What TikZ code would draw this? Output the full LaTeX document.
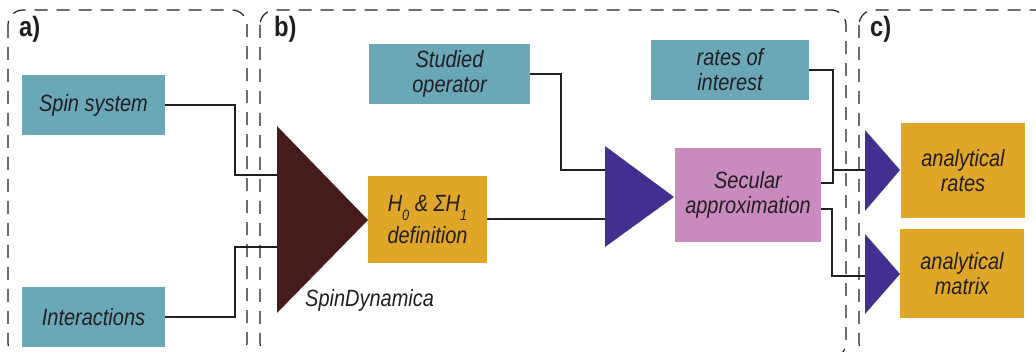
\documentclass[tikz,border=0pt]{standalone}
\usepackage{fontspec}
\setmainfont{Liberation Sans}[FakeStretch=0.85]
\definecolor{tealbox}{HTML}{6AA8B8}
\definecolor{orangebox}{HTML}{E0A628}
\definecolor{pinkbox}{HTML}{C98ABE}
\definecolor{maroontri}{HTML}{461B1C}
\definecolor{purpletri}{HTML}{432F8F}
\definecolor{ink}{HTML}{231F20}
\newcommand\lowsub[1]{\raisebox{-0.4em}{\fontsize{15}{15}\selectfont #1}}
\begin{document}
\begin{tikzpicture}[x=1pt,y=-1pt,
  box/.style={inner sep=0pt, align=center, text=ink,
    font=\fontsize{23.5}{25}\selectfont\itshape},
  panel/.style={draw=ink, line width=1.2pt, dash pattern=on 13pt off 9pt, rounded corners=15pt},
  conn/.style={draw=ink, line width=1.3pt},
  lbl/.style={anchor=base west, inner sep=0pt, text=ink, font=\fontsize{28}{28}\selectfont\bfseries}
]
\useasboundingbox (0,0) rectangle (1036,352);
% panels
\draw[panel] (8,10) rectangle (247,358);
\draw[panel] (260,10) rectangle (846,358);
\draw[panel] (859,10) rectangle (1060,358);
\node[lbl] (la) at (19,37) {a)};
\node[lbl] (lb) at (274,37) {b)};
\node[lbl] (lc) at (870,37) {c)};
% boxes
\node[box, fill=tealbox, minimum width=143pt, minimum height=60pt] (sys) at (93.5,105) {Spin system};
\node[box, fill=tealbox, minimum width=143pt, minimum height=60pt] (inter) at (93.5,317) {Interactions};
\node[box, fill=orangebox, minimum width=119pt, minimum height=87pt] (h0) at (427.5,219.5) {H\lowsub{0} \& ΣH\lowsub{1}\\[5pt]definition};
\node[box, fill=tealbox, minimum width=161pt, minimum height=60pt] (studied) at (449.5,74) {Studied\\operator};
\node[box, fill=tealbox, minimum width=158pt, minimum height=60pt] (rates) at (730,70) {rates of\\interest};
\node[box, fill=pinkbox, minimum width=146pt, minimum height=94pt] (sec) at (748,195) {Secular\\approximation};
\node[box, fill=orangebox, minimum width=124pt, minimum height=95pt] (arates) at (963,170.5) {analytical\\rates};
\node[box, fill=orangebox, minimum width=124pt, minimum height=89pt] (amat) at (962,273.5) {analytical\\matrix};
% triangles
\fill[maroontri] (277,126) -- (368,220) -- (277,313) -- cycle;
\fill[purpletri] (605,146) -- (674,197) -- (605,247) -- cycle;
\fill[purpletri] (865,130) -- (900,170) -- (865,211) -- cycle;
\fill[purpletri] (865,234) -- (900,274) -- (865,314) -- cycle;
\node[anchor=base west, inner sep=0pt, text=ink, font=\fontsize{23.5}{25}\selectfont\itshape] (sd) at (305,307) {SpinDynamica};
% connector end points
\coordinate (t1a) at (277,175);
\coordinate (t1b) at (277,247);
\coordinate (t2a) at (605,170);
\coordinate (t2b) at (605,219);
\coordinate (t3) at (865,170);
\coordinate (t4) at (865,276);
\coordinate (j1) at (235,175);
\coordinate (j2) at (235,247);
\coordinate (j3) at (561,170);
\coordinate (j4) at (833,170);
\coordinate (j5) at (832,276);
% connectors
\draw[conn] (sys.east) -| (j1) -- (t1a);
\draw[conn] (inter.east) -| (j2) -- (t1b);
\draw[conn] (h0.east |- t2b) -- (t2b);
\draw[conn] (studied.east) -| (j3) -- (t2a);
\draw[conn] (rates.east) -| (j4) -- (t3);
\draw[conn] (sec.east |- 0,183) -| (j4);
\draw[conn] (sec.east |- 0,209) -| (j5) -- (t4);
\end{tikzpicture}
\end{document}
